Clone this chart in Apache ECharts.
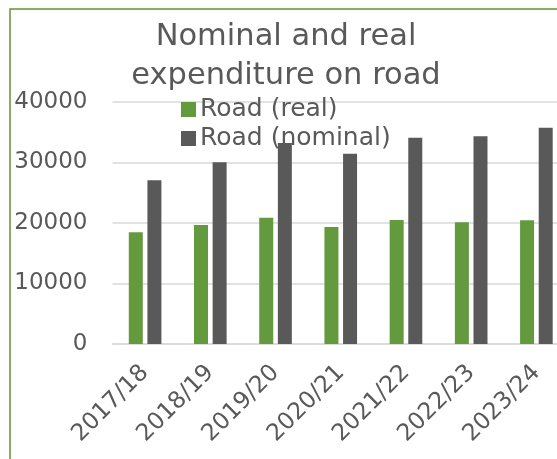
<!DOCTYPE html>
<html>
<head>
<meta charset="utf-8">
<script src="https://cdn.jsdelivr.net/npm/echarts@6/dist/echarts.min.js"></script>
<style>
html,body{margin:0;padding:0;background:#fff;}
#chart{width:557px;height:459px;}
</style>
</head>
<body>
<div id="chart"></div>
<script>
const categories = ['2017/18','2018/19','2019/20','2020/21','2021/22','2022/23','2023/24'];
const roadReal = [18460, 19670, 20880, 19340, 20500, 20110, 20440];
const roadNominal = [27050, 30050, 33220, 31460, 34100, 34330, 35760];
const yTicks = [0, 10000, 20000, 30000, 40000];

const FONT = 'DejaVu Sans';
const chart = echarts.init(document.getElementById('chart'));
chart.setOption({
  animation: false,
  textStyle: { fontFamily: FONT, color: '#595959' },
  title: {
    text: 'Nominal and real\nexpenditure on road',
    left: 281, top: 13, textAlign: 'center',
    textStyle: { fontFamily: FONT, fontSize: 30.5, fontWeight: 'normal', color: '#595959', lineHeight: 39 }
  },
  legend: {
    orient: 'vertical', left: 176, top: 92,
    itemWidth: 15, itemHeight: 15, itemGap: 4, icon: 'rect',
    textStyle: { fontFamily: FONT, fontSize: 25, color: '#595959', padding: [0,0,0,-1] },
    data: ['Road (real)', 'Road (nominal)']
  },
  graphic: [{
    type: 'rect', shape: { x: 10, y: 9, width: 700, height: 600 },
    style: { fill: null, stroke: '#5E9434', lineWidth: 1.5 }, silent: true, z: 100
  }],
  grid: { left: 112.5, width: 456.5, top: 102, bottom: 115, containLabel: false, outerBoundsMode: 'none' },
  xAxis: {
    type: 'category', data: categories,
    axisLine: { lineStyle: { color: '#d9d9d9', width: 1.5 } },
    axisTick: { show: false },
    axisLabel: { rotate: 45, fontSize: 23.5, color: '#595959', margin: 25, fontFamily: FONT, interval: 0 }
  },
  yAxis: {
    type: 'value', min: yTicks[0], max: yTicks[yTicks.length-1], interval: 10000,
    axisLine: { show: false }, axisTick: { show: false },
    splitLine: { lineStyle: { color: '#d9d9d9', width: 1.5 } },
    axisLabel: { fontSize: 23, color: '#595959', margin: 25, fontFamily: FONT, formatter: v => String(v) }
  },
  series: [
    { name: 'Road (real)', type: 'bar', data: roadReal, barWidth: 14, barGap: '33%',
      itemStyle: { color: '#639A3D' } },
    { name: 'Road (nominal)', type: 'bar', data: roadNominal, barWidth: 14,
      itemStyle: { color: '#595959' } }
  ]
});
</script>
</body>
</html>
